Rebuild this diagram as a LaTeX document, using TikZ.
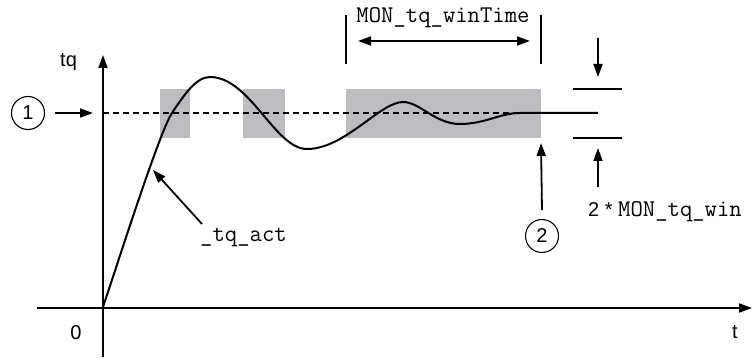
\documentclass[tikz,border=0pt]{standalone}
\usepackage{fontspec}
\setmainfont{Liberation Sans}
\usetikzlibrary{arrows.meta}
\definecolor{boxgray}{RGB}{188,189,192}
\begin{document}
\begin{tikzpicture}[x=1pt,y=-1pt,
  font=\fontsize{20}{24}\selectfont,
  axisline/.style={line width=2pt,-{Triangle[length=13pt,width=9pt]}},
  arr/.style={line width=1.8pt,-{Triangle[length=13pt,width=9pt]}},
  dblarr/.style={line width=1.8pt,{Triangle[length=13pt,width=9pt]}-{Triangle[length=13pt,width=9pt]}},
  marker/.style={line width=1.6pt},
  callout/.style={draw,circle,line width=1.1pt,minimum size=33pt,inner sep=0pt},
  mono/.style={font=\fontsize{24}{28}\selectfont\ttfamily,inner sep=0pt},
  lbl/.style={inner sep=0pt},
  win/.style={fill=boxgray}]
\useasboundingbox (0,0) rectangle (755,358);
% tolerance windows
\fill[win] (160,89) rectangle (190,138);
\fill[win] (243,89) rectangle (285,138);
\fill[win] (346,89) rectangle (541,138);
% reference level
\draw[line width=1.2pt,dash pattern=on 6pt off 4pt] (103,113) -- (540,113);
% axes
\coordinate (ybot) at (103,357);
\coordinate (ytop) at (103,55);
\coordinate (xleft) at (37,308);
\coordinate (xright) at (752,308);
\draw[axisline] (ybot) -- (ytop);
\draw[axisline] (xleft) -- (xright);
\node[lbl,anchor=base west] (tq) at (60,67) {tq};
\node[lbl,anchor=base] (zero) at (76,339) {0};
\node[lbl,anchor=base] (tlab) at (735,338) {t};
% curve
\draw[line width=2pt]
  (103,307) .. controls (123,247) and (160,131) .. (172,113)
  .. controls (184,95) and (196,77) .. (210,77)
  .. controls (250,77) and (275,149) .. (307,149)
  .. controls (345,149) and (380,102) .. (403,102)
  .. controls (420,102) and (435,124) .. (460,124)
  .. controls (485,124) and (500,113) .. (520,113)
  -- (598,113);
% callout 1
\node[callout] (c1) at (28,113) {1};
\coordinate (c1tip) at (93,113);
\draw[arr] (c1.east) ++(10,0) -- (c1tip);
% _tq_act
\node[mono,anchor=base west] (act) at (200,242) {\_tq\_act};
\coordinate (acttail) at (202,224);
\coordinate (acttip) at (153,170);
\draw[arr] (acttail) -- (acttip);
% window time
\coordinate (m1a) at (346,15); \coordinate (m1b) at (346,64);
\coordinate (m2a) at (541,15); \coordinate (m2b) at (541,64);
\draw[marker] (m1a) -- (m1b);
\draw[marker] (m2a) -- (m2b);
\coordinate (wl) at (358,41); \coordinate (wr) at (530,41);
\draw[dblarr] (wl) -- (wr);
\node[mono,anchor=base] (wintime) at (443,23) {MON\_tq\_winTime};
% callout 2
\node[callout] (c2) at (542,236) {2};
\coordinate (c2tip) at (541,143);
\draw[arr] (c2.north) ++(0,-9) -- (c2tip);
% window height
\coordinate (h1a) at (573,89); \coordinate (h1b) at (622,89);
\coordinate (h2a) at (573,138); \coordinate (h2b) at (622,138);
\draw[marker] (h1a) -- (h1b);
\draw[marker] (h2a) -- (h2b);
\coordinate (ta) at (598,38); \coordinate (tb) at (598,77);
\draw[arr] (ta) -- (tb);
\coordinate (ba) at (598,187); \coordinate (bb) at (598,148);
\draw[arr] (ba) -- (bb);
\node[lbl,anchor=base west] (winlbl) at (588,217) {2 * \fontsize{24}{28}\selectfont\ttfamily MON\_tq\_win};
\end{tikzpicture}
\end{document}
